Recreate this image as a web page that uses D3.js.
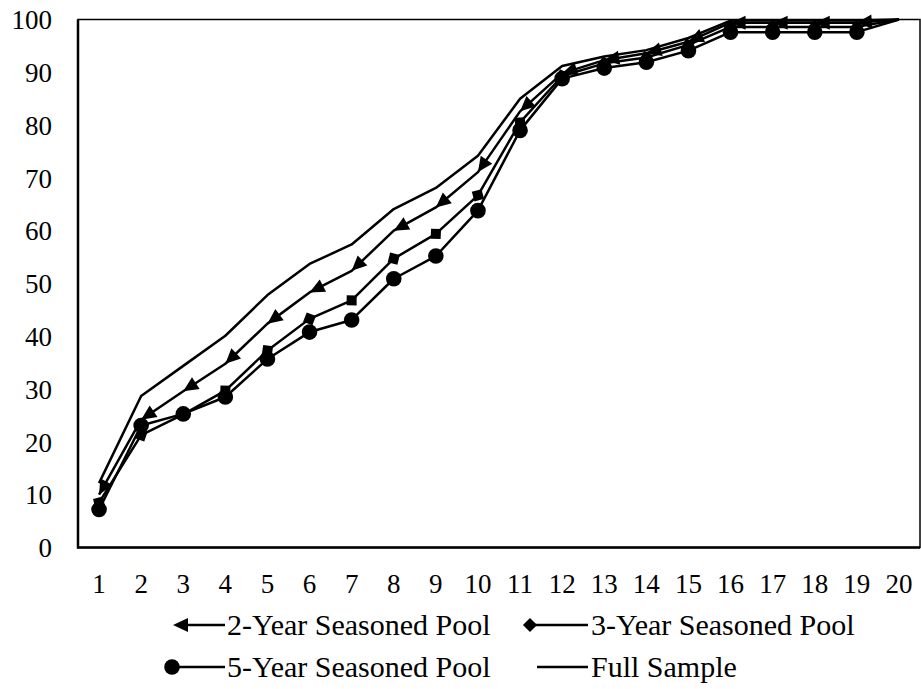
<!DOCTYPE html>
<html><head><meta charset="utf-8">
<script src="https://cdn.jsdelivr.net/npm/d3@7"></script>
<style>
body{margin:0;background:#fff}
</style>
</head><body>
<svg id="c" width="921" height="689"></svg>
<script>
const categories = [1,2,3,4,5,6,7,8,9,10,11,12,13,14,15,16,17,18,19,20];
const yTicks = [0,10,20,30,40,50,60,70,80,90,100];
const seriesNames = ["2-Year Seasoned Pool","3-Year Seasoned Pool","5-Year Seasoned Pool","Full Sample"];
const twoYear  = [10.0,24.2,29.6,34.8,42.4,48.3,52.4,60.0,64.4,71.1,82.6,89.8,92.3,93.6,95.8,99.4,99.4,99.4,99.4,100];
const threeYear= [8.5,21.3,25.2,29.7,37.3,43.3,46.8,54.7,59.4,66.7,80.5,89.3,91.7,92.8,95.2,98.6,98.6,98.6,98.6,100];
const fiveYear = [7.2,23.1,25.3,28.5,35.7,40.8,43.1,50.9,55.2,63.8,79.0,88.8,90.8,91.9,94.1,97.6,97.6,97.6,97.6,100];
const fullSample=[12.2,28.7,34.4,40.1,47.8,53.7,57.4,64.1,68.1,74.2,85.0,91.2,93.0,94.2,96.5,99.8,99.8,99.8,99.8,100];

const FONT = "'Liberation Serif', 'Times New Roman', Tinos, 'DejaVu Serif', serif";
const svg = d3.select("#c");
const L = 78, R = 920, T = 19.5, B = 547.5;
const xb = d3.scaleBand().domain(categories).range([L, R]).padding(0);
const xc = c => xb(c) + xb.bandwidth()/2;
const y = d3.scaleLinear().domain([0,100]).range([B, T]);

// axes
const ya = svg.append("g").attr("transform",`translate(${L},0)`)
  .call(d3.axisLeft(y).tickValues(yTicks).tickSize(0).tickPadding(26));
ya.select(".domain").remove();
ya.attr("font-family", null);
ya.selectAll("text").attr("dy","0.34em")
  .style("font-family",FONT).style("font-size","27px").attr("fill","#000");

const xa = svg.append("g").attr("transform",`translate(0,${B})`)
  .call(d3.axisBottom(xb).tickValues(categories).tickSize(0).tickPadding(26));
xa.select(".domain").remove();
xa.attr("font-family", null);
xa.selectAll("text").style("font-family",FONT).style("font-size","27px").attr("fill","#000");

// frame
svg.append("rect").attr("x",L).attr("y",T).attr("width",R-L).attr("height",B-T)
  .attr("fill","none").attr("stroke","#000").attr("stroke-width",1.5);
svg.append("path").attr("d",`M${L},${T}V${B}H${R}`).attr("fill","none")
  .attr("stroke","#000").attr("stroke-width",2.5);

const line = d3.line().x(d=>xc(d.c)).y(d=>y(d.v)).curve(d3.curveLinear);
const toPts = arr => categories.map((c,i)=>({c, v:arr[i]}));

function drawSeries(arr, kind){
  const pts = toPts(arr);
  svg.append("path").datum(pts).attr("d",line).attr("fill","none")
    .attr("stroke","#000").attr("stroke-width",2.5).attr("stroke-linejoin","round");
  if(kind==="none") return;
  const g = svg.append("g");
  for(let i=0;i<pts.length-1;i++){
    const x0 = xc(pts[i].c), y0 = y(pts[i].v);
    const x1 = xc(pts[i+1].c), y1 = y(pts[i+1].v);
    const ang = Math.atan2(y0-y1, x0-x1)*180/Math.PI;
    if(kind==="tri"){
      g.append("path").attr("d","M0,0L-15,-7L-15,7Z")
        .attr("transform",`translate(${x0},${y0}) rotate(${ang})`).attr("fill","#000");
    } else if(kind==="sq"){
      g.append("rect").attr("x",-5).attr("y",-5).attr("width",10).attr("height",10)
        .attr("transform",`translate(${x0},${y0}) rotate(${ang+45})`).attr("fill","#000");
    } else if(kind==="circ"){
      g.append("circle").attr("cx",x0).attr("cy",y0).attr("r",7.8).attr("fill","#000");
    }
  }
}
drawSeries(fullSample,"none");
drawSeries(twoYear,"tri");
drawSeries(threeYear,"sq");
drawSeries(fiveYear,"circ");

// legend
const lg = svg.append("g");
const legendItems = [
  {name:seriesNames[0], kind:"tri",  x0:173, x1:225, tx:227, yy:625},
  {name:seriesNames[1], kind:"sq",   x0:530, x1:588, tx:591, yy:625},
  {name:seriesNames[2], kind:"circ", x0:172, x1:225, tx:227, yy:667},
  {name:seriesNames[3], kind:"none", x0:537, x1:588, tx:591, yy:667}
];
legendItems.forEach(it=>{
  lg.append("line").attr("x1",it.x0+(it.kind==="tri"?8:0)).attr("x2",it.x1)
    .attr("y1",it.yy).attr("y2",it.yy).attr("stroke","#000").attr("stroke-width",2.5);
  if(it.kind==="tri") lg.append("path").attr("d",`M${it.x0},${it.yy}L${it.x0+15},${it.yy-7}L${it.x0+15},${it.yy+7}Z`).attr("fill","#000");
  if(it.kind==="sq") lg.append("rect").attr("x",-5).attr("y",-5).attr("width",10).attr("height",10)
      .attr("transform",`translate(${it.x0},${it.yy}) rotate(45)`).attr("fill","#000");
  if(it.kind==="circ") lg.append("circle").attr("cx",it.x0).attr("cy",it.yy).attr("r",7.8).attr("fill","#000");
  lg.append("text").attr("x",it.tx).attr("y",it.yy).attr("dy","0.34em")
    .style("font-family",FONT).style("font-size","30px").attr("fill","#000").text(it.name);
});
</script>
</body></html>
